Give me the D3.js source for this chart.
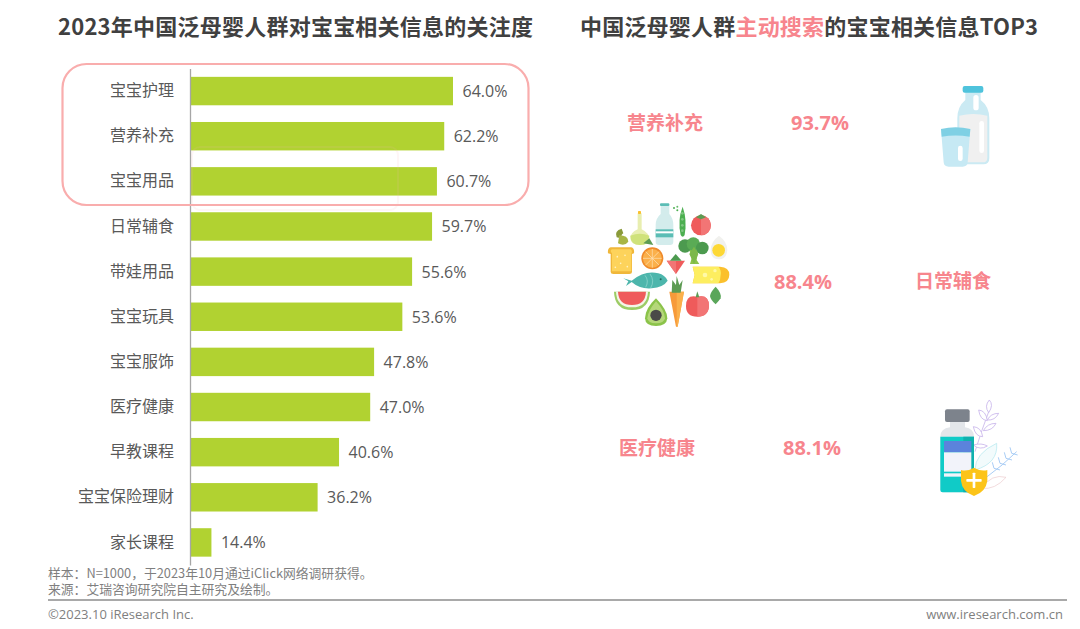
<!DOCTYPE html>
<html>
<head>
<meta charset="utf-8">
<script src="https://cdn.jsdelivr.net/npm/d3@7"></script>
<style>
  html, body { margin: 0; padding: 0; background: #fff; }
  text { font-family: "Noto Sans CJK SC", "Open Sans", sans-serif; }
  .num { font-family: "Open Sans", "Noto Sans", sans-serif; }
</style>
</head>
<body>
<svg id="chart" width="1080" height="629"></svg>
<script>
const categories = ["宝宝护理", "营养补充", "宝宝用品", "日常辅食", "带娃用品", "宝宝玩具", "宝宝服饰", "医疗健康", "早教课程", "宝宝保险理财", "家长课程"];
const values = [64.0, 62.2, 60.7, 59.7, 55.6, 53.6, 47.8, 47.0, 40.6, 36.2, 14.4];
const topCategories = ["营养补充", "日常辅食", "医疗健康"];
const topValues = [93.7, 88.4, 88.1];
const noteLines = ["样本：N=1000，于2023年10月通过iClick网络调研获得。", "来源：艾瑞咨询研究院自主研究及绘制。"];

const pink = "#f7858d";
const svg = d3.select("#chart");
svg.append("rect").attr("width", 1080).attr("height", 629).attr("fill", "#fff");

// titles
svg.append("text").attr("x", 58).attr("y", 35)
    .attr("font-size", 22).attr("font-weight", 700).attr("fill", "#404040")
    .attr("textLength", 475)
    .text("2023年中国泛母婴人群对宝宝相关信息的关注度");
const rightTitle = svg.append("text").attr("x", 580).attr("y", 35)
    .attr("font-size", 22).attr("font-weight", 700).attr("fill", "#404040")
    .attr("textLength", 458);
rightTitle.append("tspan").text("中国泛母婴人群");
rightTitle.append("tspan").attr("fill", pink).text("主动搜索");
rightTitle.append("tspan").text("的宝宝相关信息TOP3");

// bars (the original's value axis does not start at zero)
const x = d3.scaleLinear().domain([10, 64]).range([190, 453]);
const y = d3.scaleBand().domain(categories).range([68.5, 565]).paddingInner(0.37).paddingOuter(0.185);

svg.append("g").selectAll("rect")
    .data(values).enter()
    .append("rect")
    .attr("x", x(10))
    .attr("y", (d, i) => y(categories[i]))
    .attr("width", (d) => x(d) - x(10))
    .attr("height", y.bandwidth())
    .attr("fill", "#b1d231");

const axis = svg.append("g")
    .attr("transform", "translate(" + x(10) + ",0)")
    .call(d3.axisLeft(y).tickSize(0).tickPadding(16));
axis.select(".domain").attr("stroke", "#a6a6a6").attr("stroke-width", 1.3);
axis.selectAll("text")
    .attr("font-size", 16)
    .attr("font-family", '"Noto Sans CJK SC", sans-serif')
    .attr("fill", "#595959");

svg.append("g").selectAll("text")
    .data(values).enter()
    .append("text")
    .attr("class", "num")
    .attr("x", (d) => x(d) + 9.5)
    .attr("y", (d, i) => y(categories[i]) + y.bandwidth() / 2 + 6)
    .attr("font-size", 16)
    .attr("fill", "#595959")
    .text((d) => d.toFixed(1) + "%");

// highlight box and the faint ghost box behind it
svg.append("rect").attr("x", 192).attr("y", 147).attr("width", 206).attr("height", 63)
    .attr("rx", 8).attr("fill", "none").attr("stroke", "#f9b4b4").attr("stroke-width", 2).attr("opacity", 0.12);
svg.append("rect").attr("x", 62.5).attr("y", 64).attr("width", 466).attr("height", 141)
    .attr("rx", 24).attr("fill", "none").attr("stroke", "#f9adad").attr("stroke-width", 2.2);

// top 3 labels
const topCatPos = [[665, 123], [953, 281], [657, 448]];
const topValPos = [[820, 123], [803, 282], [812, 448]];
svg.append("g").selectAll("text")
    .data(topCategories).enter()
    .append("text")
    .attr("x", (d, i) => topCatPos[i][0])
    .attr("y", (d, i) => topCatPos[i][1] + 7)
    .attr("text-anchor", "middle")
    .attr("font-size", 19).attr("font-weight", 700).attr("fill", pink)
    .text((d) => d);
svg.append("g").selectAll("text")
    .data(topValues).enter()
    .append("text")
    .attr("class", "num")
    .attr("x", (d, i) => topValPos[i][0])
    .attr("y", (d, i) => topValPos[i][1] + 7)
    .attr("text-anchor", "middle")
    .attr("font-size", 20).attr("font-weight", 700).attr("fill", pink)
    .text((d) => d.toFixed(1) + "%");

// small shape helpers for the icons
function shape(g, tag, attrs) {
    const el = g.append(tag);
    Object.keys(attrs).forEach((k) => el.attr(k, attrs[k]));
    return el;
}
const path = (g, d, fill, extra) => shape(g, "path", Object.assign({d: d, fill: fill}, extra || {}));
const circ = (g, cx, cy, r, fill) => shape(g, "circle", {cx: cx, cy: cy, r: r, fill: fill});
const box = (g, x0, y0, w, h, rx, fill) => shape(g, "rect", {x: x0, y: y0, width: w, height: h, rx: rx, fill: fill});

// milk icon, coordinates are 3x page pixels
const milk = svg.append("g").attr("transform", "translate(900,75) scale(0.3333)");
path(milk, "M196 50H242V75Q268 95 268 130V250Q268 268 250 268H190Q172 268 172 250V130Q172 95 196 75Z", "#cbeaf3");
path(milk, "M178 122Q220 112 262 122V248Q262 262 248 262H192Q178 262 178 248Z", "#f0f0f0");
box(milk, 188, 33, 62, 20, 6, "#4fc3dc");
box(milk, 220, 60, 16, 46, 8, "#fff");
box(milk, 238, 138, 14, 96, 7, "#fff");
path(milk, "M123 162H211L203 262Q202 275 188 275H146Q132 275 131 262Z", "#c6e9f4");
path(milk, "M123 162Q167 152 211 162L209 185Q167 178 125 185Z", "#7fd0e4");
box(milk, 174, 212, 14, 46, 7, "#fff");

// food icon, coordinates are 3x page pixels
const food = svg.append("g").attr("transform", "translate(590,70) scale(0.3333)");
// oil flask
path(food, "M143 430H155V478Q180 490 178 510Q175 525 150 525Q122 525 121 505Q121 488 143 478Z", "#e8eeb0");
path(food, "M121 497Q150 485 178 497Q177 525 150 525Q122 525 121 497Z", "#cfe27a");
box(food, 144, 423, 9, 9, 2, "#fbc02d");
path(food, "M160 520L178 505L190 525Z", "#5d9b53");
// kiwi curl
path(food, "M95 476Q72 482 80 502L98 506Q90 495 100 490Z", "#8a9a3a");
path(food, "M88 496Q114 496 115 515Q104 530 84 520Z", "#a8b545");
// milk bottle
path(food, "M212 402H238V432Q250 445 250 465V515Q250 525 240 525H207Q197 525 197 515V465Q197 445 212 432Z", "#d3ecec");
box(food, 197, 478, 53, 24, 0, "#5bbdb5");
box(food, 210, 400, 28, 8, 3, "#5bbdb5");
box(food, 197, 484, 53, 6, 0, "#fff");
// pea
path(food, "M278 410Q292 450 284 495Q278 505 272 495Q262 450 278 410Z", "#4caf50");
circ(food, 252, 414, 3, "#4caf50"); circ(food, 262, 410, 3, "#66bb6a"); circ(food, 262, 421, 3, "#4caf50");
for (const cy of [430, 448, 466, 482]) circ(food, 277, cy, 4, "#81c784");
// tomato
circ(food, 333, 466, 30, "#ef5b5b");
path(food, "M333 436A30 30 0 0 1 333 496Z", "#f27575");
path(food, "M318 442L333 432L348 442L333 448Z", "#5d9b53");
// egg
path(food, "M387 497Q412 515 412 540Q410 568 387 568Q362 568 362 540Q362 515 387 497Z", "#f1f1ee");
circ(food, 386, 541, 19, "#fdd835");
// bread
path(food, "M62 532H124Q134 535 132 550L126 552V606Q126 612 118 612H70Q62 612 62 606V552L54 550Q52 535 62 532Z", "#f0b73a");
path(food, "M66 538H122Q128 542 124 550V604H66V550Q58 542 66 538Z", "#fdd35b");
for (const p of [[82, 560], [105, 556], [92, 580], [112, 590], [76, 592]]) circ(food, p[0], p[1], 2.5, "#fff3c4");
// orange
circ(food, 187, 565, 33, "#ef8a2a");
circ(food, 187, 565, 28, "#fbb04b");
for (let a = 0; a < 180; a += 45) {
    shape(food, "line", {x1: 187, y1: 565, x2: 187, y2: 537, stroke: "#fde3b8", "stroke-width": 2, transform: "rotate(" + a + " 187 565)"});
    shape(food, "line", {x1: 187, y1: 565, x2: 187, y2: 593, stroke: "#fde3b8", "stroke-width": 2, transform: "rotate(" + a + " 187 565)"});
}
// broccoli
path(food, "M298 540H325L320 570L328 582H300L305 565Z", "#8bc34a");
circ(food, 285, 528, 20, "#4c9a4f"); circ(food, 310, 522, 20, "#5aab55"); circ(food, 337, 534, 19, "#4c9a4f");
path(food, "M298 552L312 530L325 552L312 582Z", "#7cb84a");
// strawberry
path(food, "M230 572H285L258 612Z", "#ef5b5b");
path(food, "M258 612L230 572H258Z", "#f27575");
path(food, "M240 572L257 552L275 572Z", "#4c9a4f");
// cheese
path(food, "M308 590H390Q418 592 418 614Q418 638 390 640H308L314 615Z", "#fbc02d");
path(food, "M308 590H385Q395 600 392 615Q392 630 385 640H308L314 615Z", "#fdee60");
circ(food, 345, 615, 7, "#fff9a8"); circ(food, 375, 602, 5, "#fff9a8"); circ(food, 365, 628, 4, "#fff9a8");
// fish
path(food, "M100 625L125 632Q165 600 205 610Q225 615 233 632Q220 652 185 655Q150 658 125 636L108 648L115 634Z", "#4db6ac");
path(food, "M180 612Q195 632 182 654", "none", {stroke: "#9adbd3", "stroke-width": 2});
path(food, "M165 616Q178 632 167 652", "none", {stroke: "#9adbd3", "stroke-width": 2});
circ(food, 212, 628, 3, "#26685f");
// watermelon
path(food, "M72 665H180Q178 720 126 720Q74 720 72 665Z", "#9ccc65");
path(food, "M78 665H174Q172 712 126 712Q80 712 78 665Z", "#f4f4e8");
path(food, "M84 665H168Q166 705 126 705Q86 705 84 665Z", "#ef5b5b");
// avocado
path(food, "M198 685Q232 720 232 745Q230 768 198 768Q166 768 165 745Q166 715 198 685Z", "#8bc34a");
path(food, "M198 694Q224 722 225 745Q222 760 198 760Q174 760 172 745Q174 722 198 694Z", "#b5d77a");
circ(food, 198, 736, 17, "#4a4a48");
// carrot
path(food, "M238 665H282L263 770H258Z", "#f79a3a");
path(food, "M260 665H282L263 770H260Z", "#fbb04b");
path(food, "M245 668L247 630L258 645L260 618L268 645L278 630L272 668Z", "#5d9b53");
// apple
path(food, "M322 680Q357 672 357 708Q355 740 322 740Q288 740 288 708Q288 672 322 680Z", "#ef5b5b");
path(food, "M322 680Q357 672 357 708Q355 740 322 740Z", "#f27575");
path(food, "M317 682L322 664L328 682Z", "#5d9b53");
// leaf
path(food, "M377 650Q396 670 392 685Q385 695 377 703Q362 690 360 678Q362 665 377 650Z", "#5aa65a");

// medicine icon, coordinates are 3x page pixels
const med = svg.append("g").attr("transform", "translate(900,390) scale(0.3333)");
const stemLine = {stroke: "#c8b5ea", "stroke-width": 2.5};
path(med, "M225 185Q245 120 268 60", "none", stemLine);
for (const p of ["M268 30Q282 45 266 68Q252 48 268 30Z", "M236 60Q258 62 262 92Q240 90 236 60Z", "M296 70Q285 92 262 90Q272 70 296 70Z", "M220 110Q244 112 248 140Q226 140 220 110Z", "M288 100Q278 122 250 122Q262 100 288 100Z", "M220 165Q245 158 262 168Q240 182 220 165Z"]) {
    path(med, p, "#fff", stemLine);
}
path(med, "M290 160Q295 220 225 240Q225 190 290 160Z", "#f2fbfc", {stroke: "#bdeaf0", "stroke-width": 2.5});
path(med, "M350 185Q310 225 255 265", "none", {stroke: "#a9cdf5", "stroke-width": 3});
for (const f of [[335, 190], [318, 205], [300, 220], [282, 235]]) {
    path(med, "M" + f[0] + " " + f[1] + "L" + (f[0] - 5) + " " + (f[1] - 18), "none", {stroke: "#a9cdf5", "stroke-width": 3});
    path(med, "M" + f[0] + " " + f[1] + "L" + (f[0] + 18) + " " + (f[1] + 5), "none", {stroke: "#a9cdf5", "stroke-width": 3});
}
path(med, "M245 295Q285 300 318 262Q275 250 245 295Z", "#fff", {stroke: "#ecc9cc", "stroke-width": 2});
path(med, "M150 95H195V112Q222 116 222 140V300Q222 307 215 307H128Q121 307 121 300V140Q121 116 150 112Z", "#e3e6ea");
box(med, 135, 58, 74, 38, 6, "#7d838c");
path(med, "M121 140H222V300Q222 307 215 307H128Q121 307 121 300Z", "#10cbc7");
path(med, "M190 140H222V300Q222 307 215 307H190Z", "#0fb1ae");
box(med, 132, 153, 82, 34, 0, "#5b83dc");
box(med, 132, 187, 82, 58, 0, "#f2f3fa");
box(med, 132, 250, 82, 10, 0, "#f2f3fa");
path(med, "M222 233Q245 246 262 240V272Q258 305 222 318Q186 305 183 272V240Q200 246 222 233Z", "#fcc419");
box(med, 199, 267, 46, 8, 2, "#fff");
box(med, 218, 248, 8, 46, 2, "#fff");

// notes and footer
svg.append("g").selectAll("text")
    .data(noteLines).enter()
    .append("text")
    .attr("x", 48)
    .attr("y", (d, i) => 578 + i * 16)
    .attr("font-size", 12.8)
    .attr("fill", "#7f7f7f")
    .text((d) => d);
svg.append("line").attr("x1", 48).attr("x2", 1067).attr("y1", 600).attr("y2", 600)
    .attr("stroke", "#8c8c8c").attr("stroke-width", 1.3);
svg.append("text").attr("class", "num").attr("x", 48).attr("y", 619)
    .attr("font-size", 13).attr("fill", "#7f7f7f")
    .text("©2023.10 iResearch Inc.");
svg.append("text").attr("class", "num").attr("x", 1063).attr("y", 619)
    .attr("text-anchor", "end")
    .attr("font-size", 13).attr("fill", "#7f7f7f")
    .text("www.iresearch.com.cn");
</script>
</body>
</html>
